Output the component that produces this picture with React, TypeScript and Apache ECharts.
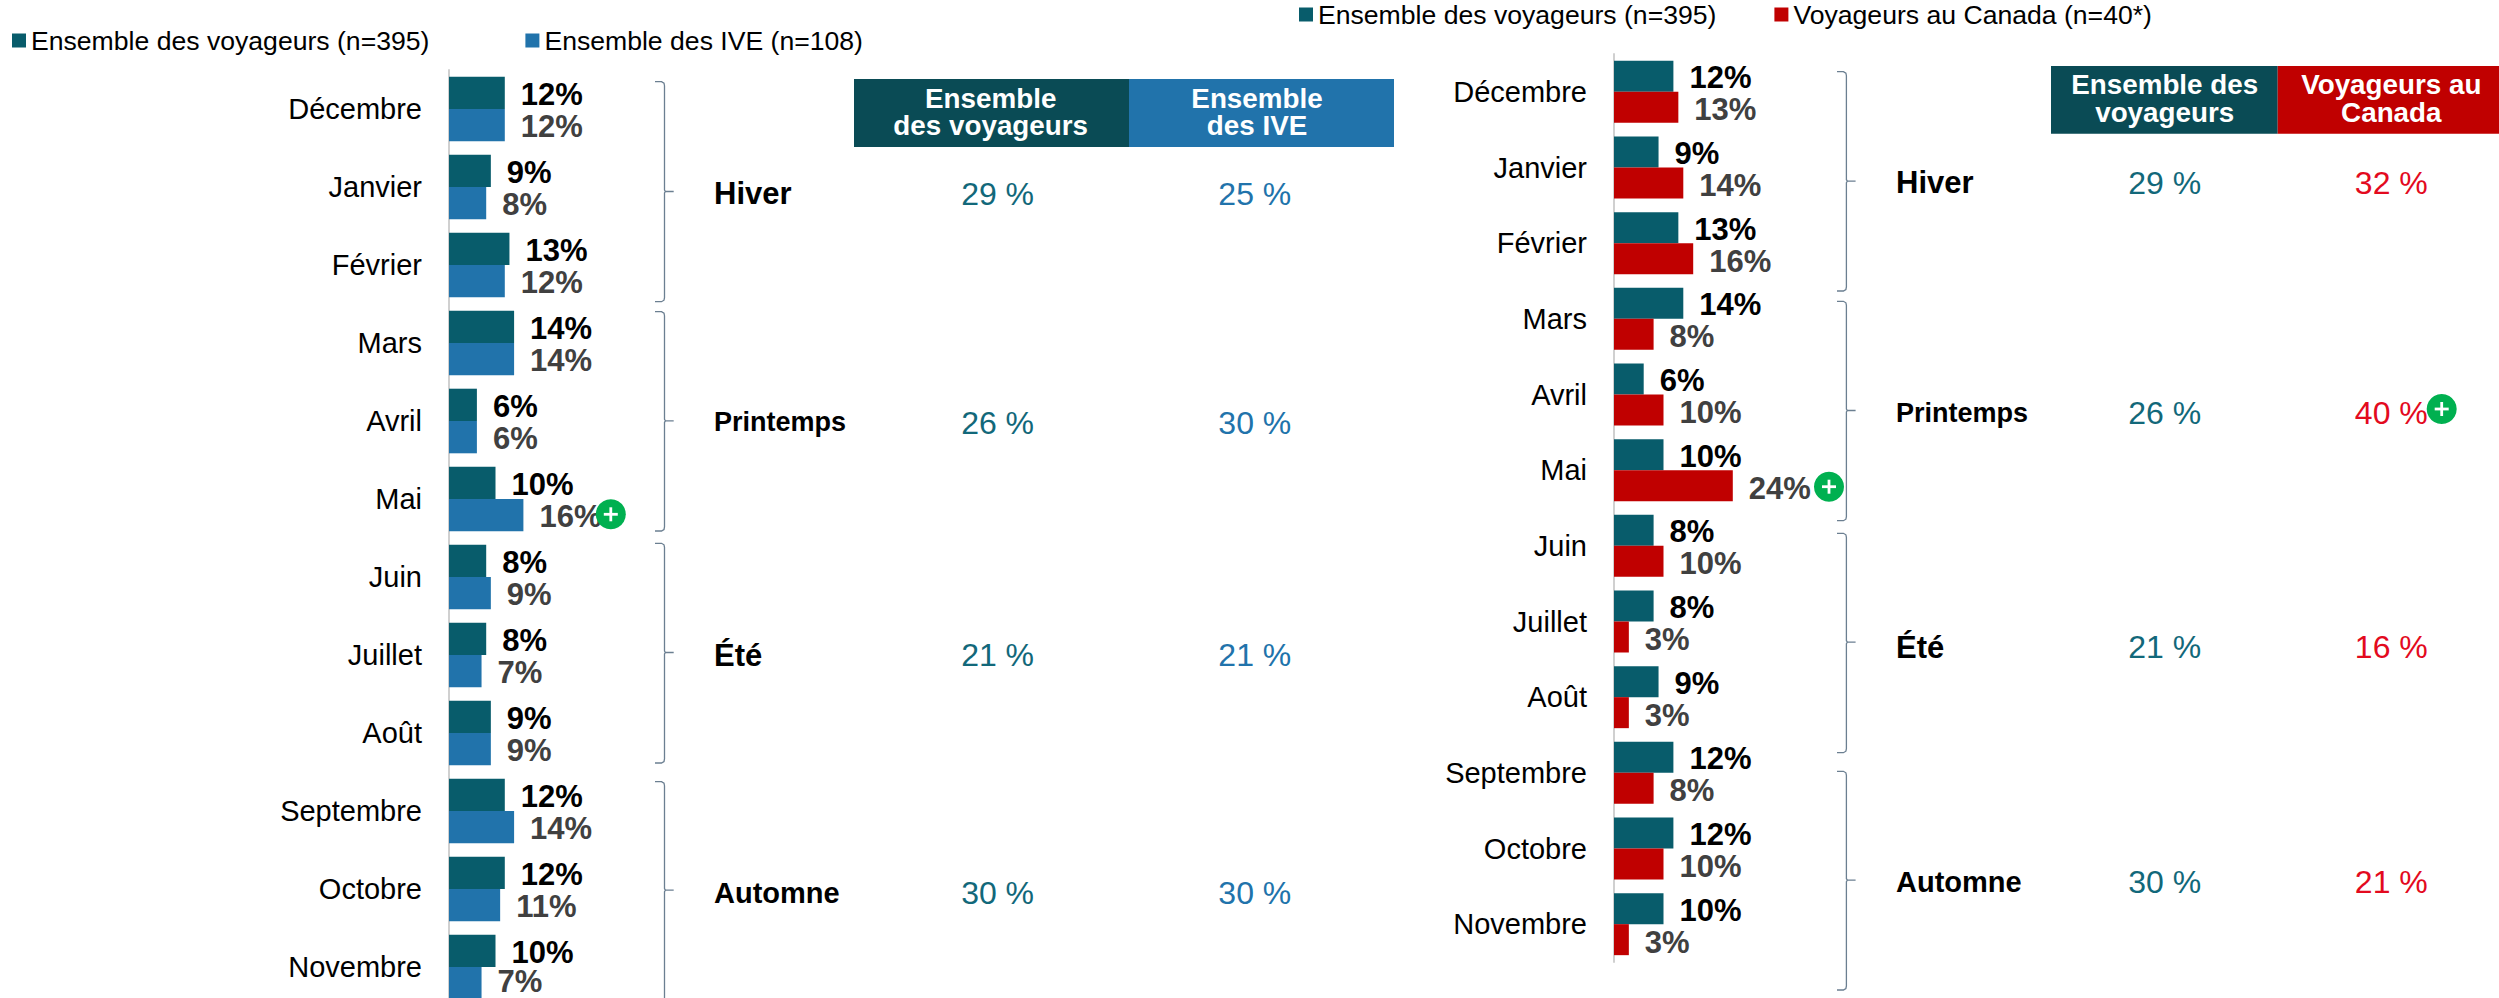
import React, { useEffect, useRef } from "react";
import * as echarts from "echarts";

const months = ["Décembre","Janvier","Février","Mars","Avril","Mai","Juin","Juillet","Août","Septembre","Octobre","Novembre"];
const allTravellersLeft = [12,9,13,14,6,10,8,8,9,12,12,10];
const iveValues = [12,8,12,14,6,16,9,7,9,14,11,7];
const allTravellersRight = [12,9,13,14,6,10,8,8,9,12,12,10];
const canadaValues = [13,14,16,8,10,24,10,3,3,8,10,3];

const seasons = ["Hiver","Printemps","Été","Automne"];
const seasonAll = ["29 %","26 %","21 %","30 %"];
const seasonIve = ["25 %","30 %","21 %","30 %"];
const seasonCanada = ["32 %","40 %","16 %","21 %"];

const nameAll = "Ensemble des voyageurs (n=395)";
const nameIve = "Ensemble des IVE (n=108)";
const nameCanada = "Voyageurs au Canada (n=40*)";

const TEAL = "#085C6B";
const BLUE = "#2173AB";
const RED = "#C00000";
const FONT = "'Liberation Sans', Arial, sans-serif";
const BRACKET = "#6B7F91";

const seasonSizes = [31, 27, 31, 29];

function bracket(x0: number, x1: number, x2: number, top: number, mid: number, bottom: number) {
  return {
    type: "polyline",
    silent: true,
    shape: { points: [
      [x0, top], [x1 - 3, top], [x1 - 0.5, top + 1.5], [x1, top + 4],
      [x1, mid - 2], [x1 + 1, mid - 0.5], [x2, mid - 0.5], [x1 + 1, mid - 0.5], [x1, mid + 1],
      [x1, bottom - 4], [x1 - 0.5, bottom - 1.5], [x1 - 3, bottom], [x0, bottom],
    ] },
    style: { fill: "none", stroke: BRACKET, lineWidth: 1.3 },
  };
}

function plus(cx: number, cy: number) {
  return {
    type: "group", x: cx, y: cy, z: 50,
    children: [
      { type: "circle", shape: { cx: 0, cy: 0, r: 15 }, style: { fill: "#00B050" }, z: 50 },
      { type: "rect", shape: { x: -7, y: -1.4, width: 14, height: 2.8 }, style: { fill: "#fff" }, z: 51 },
      { type: "rect", shape: { x: -1.4, y: -7, width: 2.8, height: 14 }, style: { fill: "#fff" }, z: 51 },
    ],
  };
}

function txt(text: string, x: number, y: number, size: number, fill: string, bold = false, align = "center") {
  return {
    type: "text", x, y, silent: true, z: 20,
    style: { text, fill, font: `${bold ? "bold " : ""}${size}px ${FONT}`, textAlign: align, textVerticalAlign: "middle", verticalAlign: "middle" },
  };
}

function header(x: number, w: number, y: number, h: number, fill: string, lines: string, cx: number, l1: number, l2: number) {
  const [a, b] = lines.split("\n");
  return [
    { type: "rect", shape: { x, y, width: w, height: h }, style: { fill }, silent: true },
    txt(a, cx, l1, 27.8, "#fff", true),
    txt(b, cx, l2, 27.8, "#fff", true),
  ];
}

function barSeries(name: string, data: any[], color: string, axis: number, labelColor: string, width: number, dy = 1.5) {
  return {
    type: "bar", name, data, xAxisIndex: axis, yAxisIndex: axis,
    barWidth: width, barGap: "0%",
    itemStyle: { color },
    label: { show: true, position: "right", distance: 16, offset: [0, dy], formatter: "{c}%", color: labelColor,
      fontFamily: FONT, fontWeight: "bold", fontSize: 31 },
  };
}

function catAxis(idx: number) {
  return {
    type: "category", gridIndex: idx, data: months, inverse: true,
    axisLine: { show: true, lineStyle: { color: "#D0D0D0", width: 2 } },
    axisTick: { show: false },
    axisLabel: { color: "#000", fontFamily: FONT, fontSize: 29, margin: 27, interval: 0 },
  };
}

const legendBase = { orient: "horizontal", icon: "rect", itemWidth: 14, itemHeight: 14,
  textStyle: { fontFamily: FONT, fontSize: 26.6, color: "#000" }, selectedMode: false, padding: 0 };

export default function App() {
  const ref = useRef<HTMLDivElement>(null);
  useEffect(() => {
    const chart = echarts.init(ref.current!, undefined, { renderer: "svg" });
    const seasonLeftY = [193, 421.7, 655, 892.7];
    const seasonRightY = [182.8, 412.7, 647, 882];
    const valLeftY = [193.5, 422.7, 655, 892.6];
    const valRightY = [183.3, 412.7, 647, 881.5];
    const graphic: any[] = [
      ...header(854, 275, 79, 68, "#0A4B55", "Ensemble\ndes voyageurs", 990.7, 98, 125),
      ...header(1129, 265, 79, 68, BLUE, "Ensemble\ndes IVE", 1257, 98, 125),
      ...header(2051, 226.7, 66, 67.7, "#0A4B55", "Ensemble des\nvoyageurs", 2164.7, 84.5, 112),
      ...header(2277.7, 221.3, 66, 67.7, RED, "Voyageurs au\nCanada", 2391.3, 84.5, 112),
      bracket(655, 664.5, 673.7, 81.7, 192, 301.7),
      bracket(655, 664.5, 673.7, 311.7, 421.3, 531),
      bracket(655, 664.5, 673.7, 543.3, 653, 763),
      bracket(655, 664.5, 673.7, 781.7, 890.7, 1001.7),
      bracket(1837, 1846.4, 1855.6, 71.7, 181.7, 291),
      bracket(1837, 1846.4, 1855.6, 301.3, 411, 520.7),
      bracket(1837, 1846.4, 1855.6, 533.3, 642.7, 752.7),
      bracket(1837, 1846.4, 1855.6, 771.3, 880.7, 990),
      ...seasons.map((s, i) => txt(s, 714, seasonLeftY[i], seasonSizes[i], "#000", true, "left")),
      ...seasons.map((s, i) => txt(s, 1896, seasonRightY[i], seasonSizes[i], "#000", true, "left")),
      ...seasonAll.map((s, i) => txt(s, 997.6, valLeftY[i], 32, "#12687A")),
      ...seasonIve.map((s, i) => txt(s, 1254.8, valLeftY[i], 32, BLUE)),
      ...seasonAll.map((s, i) => txt(s, 2164.7, valRightY[i], 32, "#12687A")),
      ...seasonCanada.map((s, i) => txt(s, 2391.3, valRightY[i], 32, "#E30A1E")),
      plus(610.8, 514.3),
      plus(1829, 486.7),
      plus(2441.7, 409),
    ];
    const ivePoints = iveValues.map((value, i) =>
      i === iveValues.length - 1 ? { value, label: { offset: [0, -1.2] } } : value);
    chart.setOption({
      animation: false,
      backgroundColor: "#fff",
      color: [TEAL, BLUE, RED],
      legend: [
        { ...legendBase, left: 12, top: 27, itemGap: 96, data: [nameAll, nameIve] },
        { ...legendBase, left: 1299, top: 1, itemGap: 58, data: [nameAll, nameCanada] },
      ],
      grid: [
        { left: 449, top: 70, width: 93, height: 936, containLabel: false },
        { left: 1614, top: 54, width: 148.5, height: 908, containLabel: false },
      ],
      xAxis: [
        { type: "value", gridIndex: 0, min: 0, max: 20, show: false },
        { type: "value", gridIndex: 1, min: 0, max: 30, show: false },
      ],
      yAxis: [catAxis(0), catAxis(1)],
      series: [
        barSeries(nameAll, allTravellersLeft, TEAL, 0, "#000", 32.3),
        barSeries(nameIve, ivePoints, BLUE, 0, "#404040", 32.3),
        barSeries(nameAll, allTravellersRight, TEAL, 1, "#000", 31),
        barSeries(nameCanada, canadaValues, RED, 1, "#404040", 31, 2.5),
      ],
      graphic,
    });
    return () => chart.dispose();
  }, []);
  return (
    <div style={{ position: "fixed", left: 0, top: 0, width: 2499, height: 998, overflow: "hidden", background: "#fff" }}>
      <div ref={ref} style={{ width: 2499, height: 1030 }} />
    </div>
  );
}
